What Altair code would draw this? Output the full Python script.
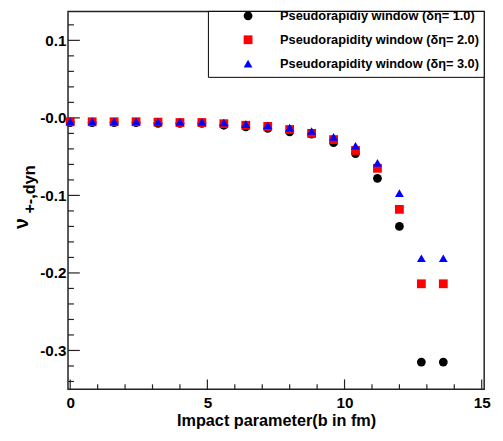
import altair as alt
import pandas as pd

# ---- data ----
b_values = [0.0, 0.8, 1.6, 2.4, 3.2, 4.0, 4.8, 5.6, 6.4, 7.2, 8.0, 8.8, 9.6, 10.4, 11.2, 12.0, 12.8, 13.6]
nu_eta1 = [-0.006, -0.006, -0.006, -0.006, -0.007, -0.007, -0.007, -0.0095, -0.0115, -0.0135,
           -0.018, -0.021, -0.032, -0.046, -0.078, -0.140, -0.315, -0.315]
nu_eta2 = [-0.005, -0.005, -0.005, -0.005, -0.0055, -0.006, -0.006, -0.0075, -0.0095, -0.011,
           -0.015, -0.020, -0.028, -0.042, -0.065, -0.118, -0.214, -0.214]
nu_eta3 = [-0.0045, -0.0045, -0.0045, -0.0045, -0.005, -0.005, -0.005, -0.006, -0.008, -0.0095,
           -0.0125, -0.017, -0.0245, -0.036, -0.058, -0.097, -0.181, -0.181]

series_labels = ["Pseudorapidiy window (δη= 1.0)",
                 "Pseudorapidity window (δη= 2.0)",
                 "Pseudorapidity window (δη= 3.0)"]
series_colors = ["#000000", "#ff0000", "#0000ff"]
series_shapes = ["circle", "square", "triangle-up"]

x_major_ticks = [0, 5, 10, 15]
x_minor_ticks = [1, 2, 3, 4, 6, 7, 8, 9, 11, 12, 13, 14]
y_major_ticks = [-0.3, -0.2, -0.1, 0.0, 0.1]
y_tick_labels = ["-0.3", "-0.2", "-0.1", "-0.0", "0.1"]
y_minor_ticks = [-0.34, -0.32, -0.28, -0.26, -0.24, -0.22, -0.18, -0.16, -0.14, -0.12,
                 -0.08, -0.06, -0.04, -0.02, 0.02, 0.04, 0.06, 0.08, 0.12]

x_title = "Impact parameter(b in fm)"
y_title_main = "ν"
y_title_sub = "+-,dyn"

FONT = "Liberation Sans, Arial, sans-serif"
W, H = 423, 384

rows = []
for label, vals in zip(series_labels, [nu_eta1, nu_eta2, nu_eta3]):
    for b, v in zip(b_values, vals):
        rows.append({"b": b, "nu": v, "series": label})
df = pd.DataFrame(rows)

xscale = alt.Scale(domain=[-0.08, 15.09], nice=False, zero=False)
yscale = alt.Scale(domain=[-0.35, 0.1373], nice=False, zero=False)

x_axis = alt.Axis(values=x_major_ticks, format="d", title=x_title, grid=False, domain=False,
                  ticks=False, tickSize=0, labelFont=FONT, labelFontWeight="bold",
                  labelFontSize=15.5, labelColor="black", labelPadding=7,
                  titleFont=FONT, titleFontWeight="bold", titleFontSize=16.5,
                  titleColor="black", titlePadding=1)
y_axis = alt.Axis(values=y_major_ticks, title="", grid=False, domain=False, ticks=False,
                  tickSize=0, labelFont=FONT, labelFontWeight="bold", labelFontSize=15.5,
                  labelColor="black", labelPadding=2,
                  labelExpr="%s[round(datum.value*10)+3]" % str(y_tick_labels))

legend_box = alt.Chart(pd.DataFrame({"a": [0]})).mark_rect(
    fill="white", stroke="black", strokeWidth=1
).encode(x=alt.value(142.7), x2=alt.value(W), y=alt.value(0), y2=alt.value(67))

def tick_layer(vals, horizontal, length):
    if horizontal:
        d = pd.DataFrame({"nu": vals})
        return alt.Chart(d).mark_rule(color="#222", strokeWidth=1.2).encode(
            y=alt.Y("nu:Q", scale=yscale), x=alt.value(0), x2=alt.value(length))
    d = pd.DataFrame({"b": vals})
    return alt.Chart(d).mark_rule(color="#222", strokeWidth=1.2).encode(
        x=alt.X("b:Q", scale=xscale), y=alt.value(H), y2=alt.value(H - length))

points = alt.Chart(df).mark_point(filled=True, size=80, opacity=1).encode(
    x=alt.X("b:Q", scale=xscale, axis=x_axis),
    y=alt.Y("nu:Q", scale=yscale, axis=y_axis),
    color=alt.Color("series:N", scale=alt.Scale(domain=series_labels, range=series_colors),
                    legend=alt.Legend(title=None, orient="none", legendX=154.5, legendY=-2,
                                      labelFont=FONT, labelFontWeight="bold", labelFontSize=13,
                                      labelColor="black", symbolSize=80, symbolOffset=22,
                                      labelOffset=26, rowPadding=10.3, padding=0,
                                      labelLimit=400)),
    shape=alt.Shape("series:N", scale=alt.Scale(domain=series_labels, range=series_shapes)),
)

nu_main = alt.Chart(pd.DataFrame({"t": [y_title_main]})).mark_text(
    angle=270, font=FONT, fontSize=20, fontWeight="bold", align="center",
    baseline="alphabetic", color="black"
).encode(text="t:N", x=alt.value(-41), y=alt.value(215.5))
nu_sub = alt.Chart(pd.DataFrame({"t": [y_title_sub]})).mark_text(
    angle=270, font=FONT, fontSize=16.5, fontWeight="bold", align="center",
    baseline="alphabetic", color="black"
).encode(text="t:N", x=alt.value(-34), y=alt.value(181))

chart = alt.layer(
    legend_box,
    tick_layer(y_major_ticks, True, 12),
    tick_layer(y_minor_ticks, True, 6),
    tick_layer(x_major_ticks, False, 10),
    tick_layer(x_minor_ticks, False, 5),
    points,
    nu_main,
    nu_sub,
).properties(
    width=W, height=H,
    padding={"left": 61, "top": 0, "right": 11, "bottom": 41},
    autosize=alt.AutoSizeParams(type="none"),
).configure_view(stroke="#222", strokeWidth=1.5)

chart.save("out.html", embed_options={"renderer": "svg", "actions": False})
